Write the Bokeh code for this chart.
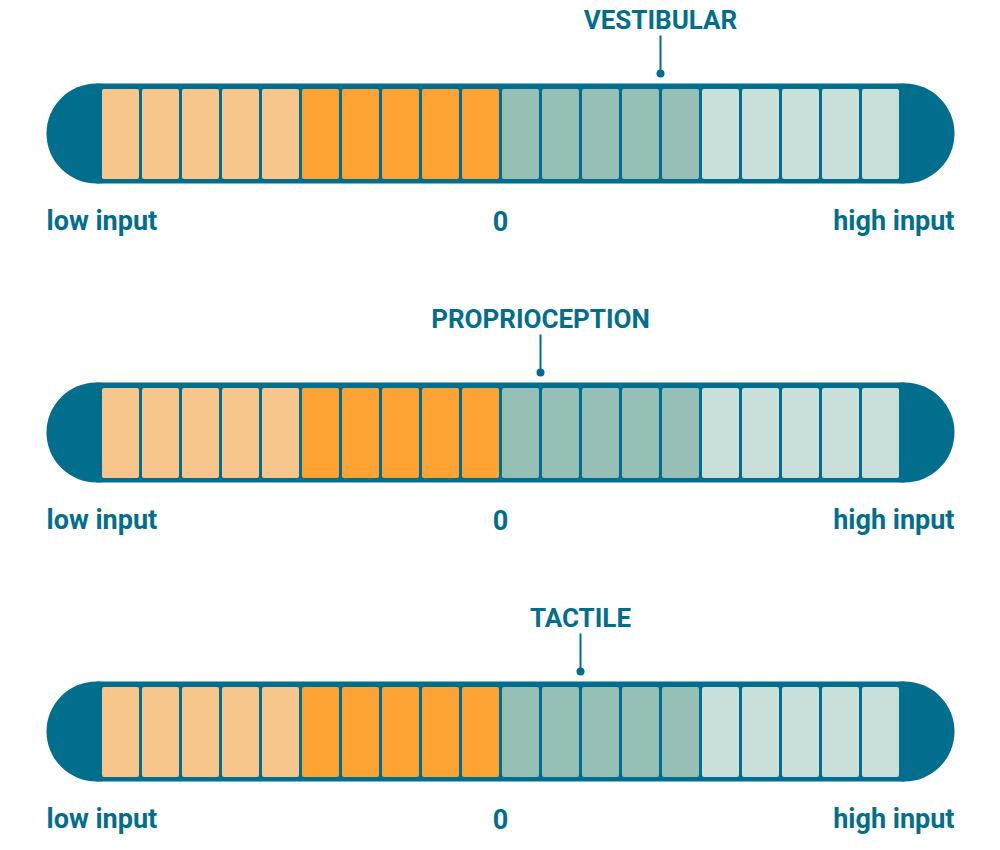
from bokeh.plotting import figure
from bokeh.models import Range1d, ColumnDataSource
from bokeh.core.properties import value
from bokeh.embed import file_html
from bokeh.resources import INLINE

# ---- data ----
categories = ["VESTIBULAR", "PROPRIOCEPTION", "TACTILE"]
pointer_values = [4, 1, 2]
cell_starts = list(range(-10, 10))          # 20 cells, each 1 unit wide
band_colors = ["#F7C68C", "#FDA333", "#96BFB6", "#C9DFDA"]  # 5 cells per band
cell_colors = [band_colors[(s + 10) // 5] for s in cell_starts]
scale_labels = ["low input", "0", "high input"]
scale_min, scale_max = -10, 10

# ---- style / layout ----
DARK = "#016E8E"
FONT = value("Roboto")
ROW_CENTERS = [133, 432, 731]      # vertical position of each gauge (px)

p = figure(width=984, height=834, output_backend="svg", toolbar_location=None,
           x_range=Range1d(-12.5, 12.1), y_range=Range1d(start=834, end=0),
           x_axis_type=None, y_axis_type=None, min_border=0)
p.outline_line_color = None
p.grid.visible = False
p.background_fill_color = "white"
p.border_fill_color = "white"

for cat, v, cy in zip(categories, pointer_values, ROW_CENTERS):
    # end caps
    p.scatter(x=[scale_min - 0.1, scale_max + 0.1], y=[cy, cy], size=100,
              marker="circle", fill_color=DARK, line_color=None)
    # body
    p.quad(left=[scale_min - 0.1], right=[scale_max + 0.1],
           top=[cy - 50], bottom=[cy + 50], fill_color=DARK, line_color=None)
    # cells
    src = ColumnDataSource(dict(
        left=[s + 0.0375 for s in cell_starts],
        right=[s + 1 - 0.0375 for s in cell_starts],
        top=[cy - 44.5] * len(cell_starts),
        bottom=[cy + 45.5] * len(cell_starts),
        color=cell_colors))
    p.quad(left="left", right="right", top="top", bottom="bottom",
           fill_color="color", line_color=None, border_radius=2, source=src)
    # pointer
    p.segment(x0=[v], y0=[cy - 98], x1=[v], y1=[cy - 60],
              line_color=DARK, line_width=2)
    p.scatter(x=[v], y=[cy - 60], size=8, marker="circle",
              fill_color=DARK, line_color=None)
    p.text(x=[v], y=[cy - 114], text=[cat], text_font=FONT,
           text_font_style="bold", text_font_size="26px", text_color=DARK,
           text_align="center", text_baseline="alphabetic")
    # scale labels
    p.text(x=[scale_min - 1.35, 0, scale_max + 1.35], y=[cy + 87] * 3,
           text=scale_labels, text_font=FONT, text_font_style="bold",
           text_font_size="27px", text_color=DARK,
           text_align=["left", "center", "right"], text_baseline="alphabetic")

open("out.html", "w").write(file_html(p, INLINE))
